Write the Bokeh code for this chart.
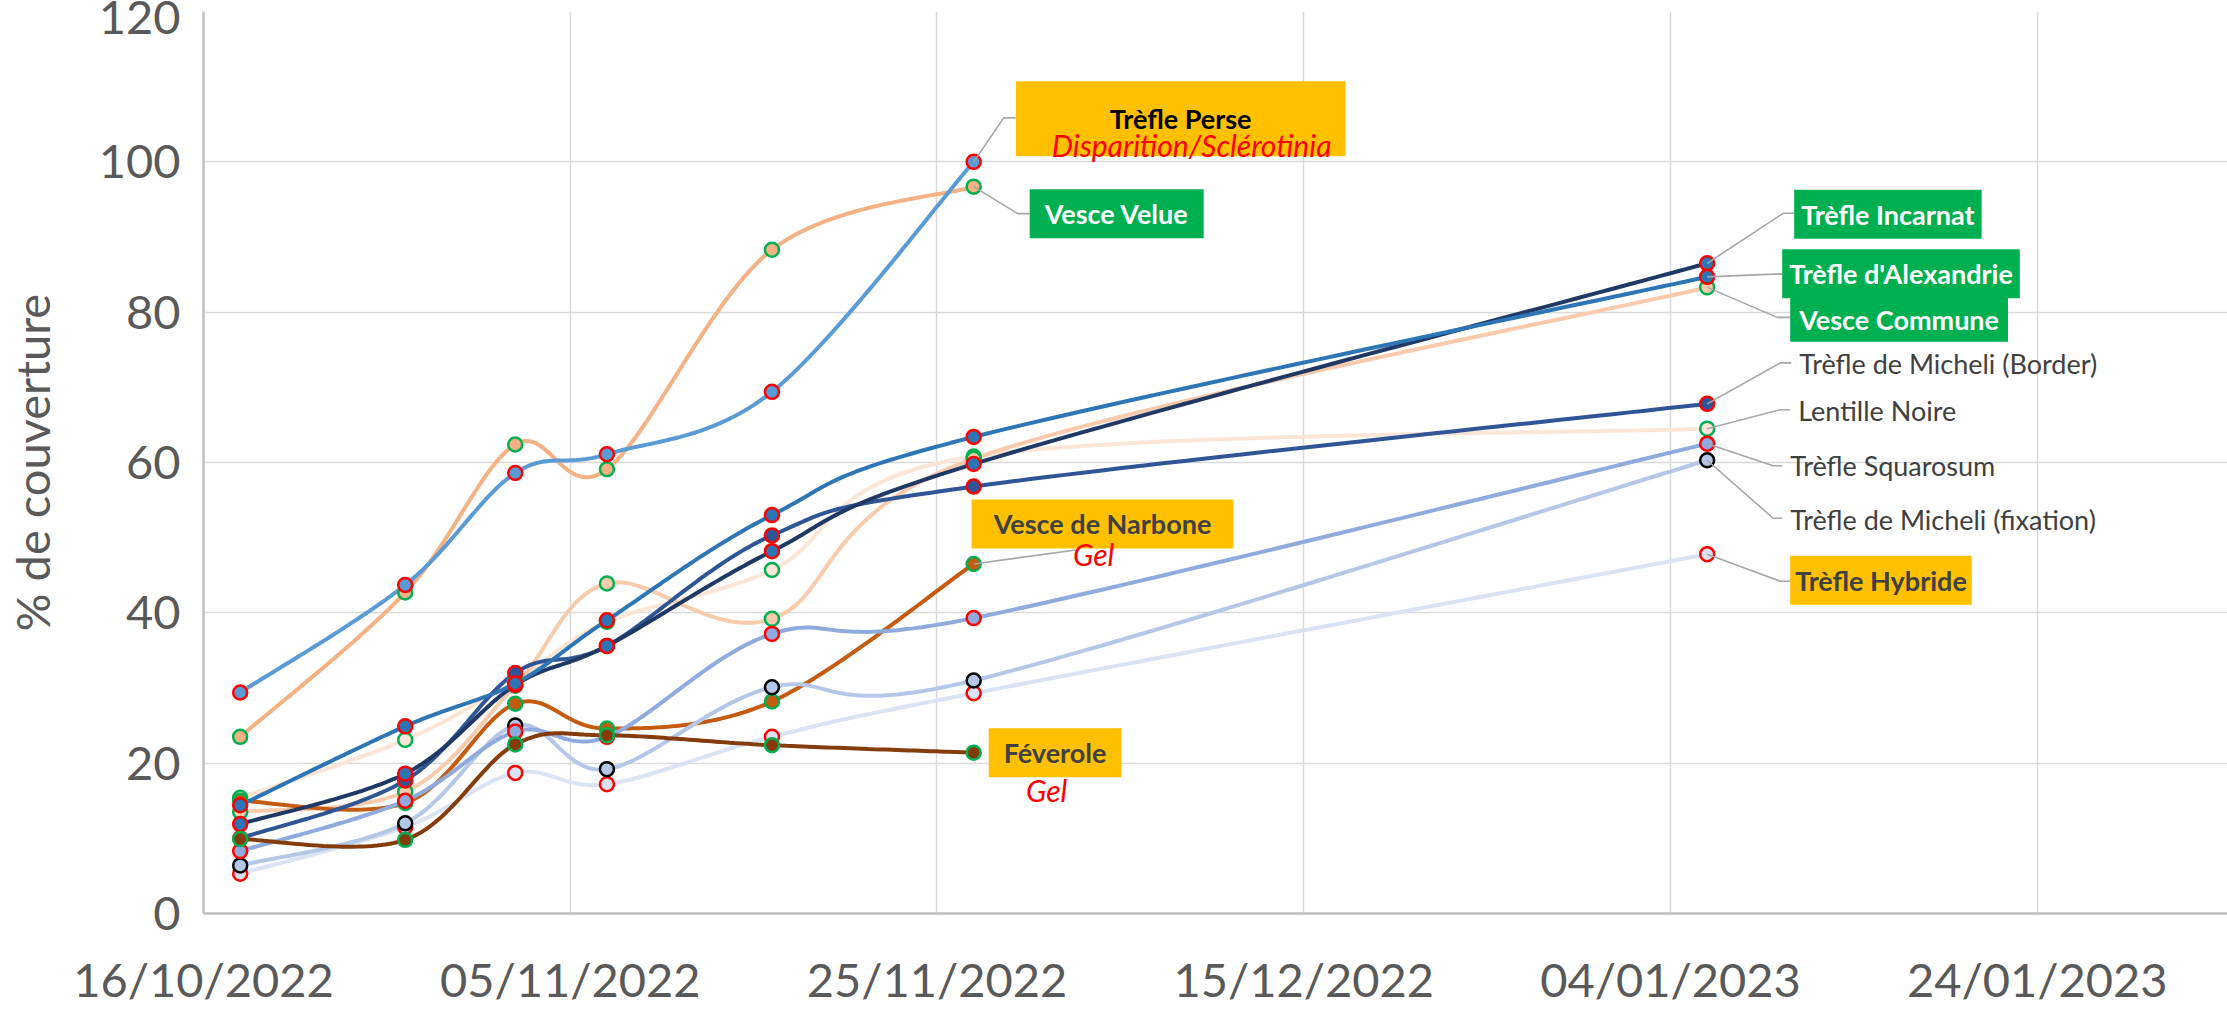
import numpy as np
from bokeh.plotting import figure
from bokeh.models import Range1d, FixedTicker, DatetimeTickFormatter, Label
from bokeh.embed import file_html
from bokeh.resources import INLINE

# ---------------- data ----------------
dates = ["2022-10-18", "2022-10-27", "2022-11-02", "2022-11-07",
         "2022-11-16", "2022-11-27", "2023-01-06"]
tick_dates = ["2022-10-16", "2022-11-05", "2022-11-25",
              "2022-12-15", "2023-01-04", "2023-01-24"]
y_ticks = [0, 20, 40, 60, 80, 100, 120]
x_start, x_end = "2022-10-16", "2023-02-03T09:00"

trefle_perse = [29.4, 43.7, 58.6, 61.1, 69.4, 100.0]
vesce_velue = [23.5, 42.7, 62.4, 59.1, 88.3, 96.7]
trefle_incarnat = [11.9, 18.6, 30.4, 35.6, 48.2, 59.8, 86.5]
trefle_alexandrie = [14.4, 24.9, 30.6, 39.0, 53.0, 63.4, 84.7]
vesce_commune = [13.5, 16.2, 30.3, 43.9, 39.2, 60.5, 83.3]
micheli_border = [10.0, 17.7, 32.0, 35.6, 50.3, 56.8, 67.8]
lentille_noire = [15.4, 23.1, 31.0, 38.8, 45.7, 60.8, 64.5]
trefle_squarosum = [8.3, 15.0, 24.2, 23.5, 37.2, 39.3, 62.5]
micheli_fixation = [6.4, 12.0, 25.0, 19.2, 30.1, 31.0, 60.3]
trefle_hybride = [5.3, 11.5, 18.7, 17.2, 23.5, 29.3, 47.8]
vesce_narbone = [15.0, 14.7, 27.9, 24.6, 28.2, 46.5]
feverole = [9.9, 9.8, 22.5, 23.7, 22.4, 21.4]

# ---------------- layout ----------------
W, H = 2227, 1009
ML, MR, MT, MB = 203, 0, 11, 96
FW, FH = W - ML - MR, H - MT - MB
FONT = "Lato"
RED, GREEN, BLACK = "#FF0000", "#00B050", "#000000"


def ms(d):
    return float((np.datetime64(d) - np.datetime64("1970-01-01T00:00")) / np.timedelta64(1, "ms"))


X0, X1 = ms(x_start), ms(x_end)
PX_X = FW / (X1 - X0)      # px per ms
PX_Y = FH / 120.0          # px per unit
xd = [ms(d) for d in dates]


def smooth(xs, ys, n=40):
    P = np.array([[x * PX_X, y * PX_Y] for x, y in zip(xs, ys)])
    out = []
    for i in range(len(P) - 1):
        p0 = P[i - 1] if i > 0 else P[i]
        p1, p2 = P[i], P[i + 1]
        p3 = P[i + 2] if i + 2 < len(P) else P[i + 1]
        c1 = p1 + (p2 - p0) / 6.0
        c2 = p2 - (p3 - p1) / 6.0
        t = np.linspace(0, 1, n)[:, None]
        seg = ((1 - t) ** 3) * p1 + 3 * ((1 - t) ** 2) * t * c1 + 3 * (1 - t) * t * t * c2 + (t ** 3) * p2
        out.append(seg if i == 0 else seg[1:])
    S = np.vstack(out)
    return S[:, 0] / PX_X, S[:, 1] / PX_Y


series = [
    # name, values, line, fill, outline
    ("Lentille Noire", lentille_noire, "#FBE5D6", "#FBE5D6", GREEN),
    ("Vesce Commune", vesce_commune, "#F8CBAD", "#F8CBAD", GREEN),
    ("Vesce Velue", vesce_velue, "#F4B183", "#F4B183", GREEN),
    ("Trèfle Perse", trefle_perse, "#5B9BD5", "#5B9BD5", RED),
    ("Vesce de Narbone", vesce_narbone, "#C55A11", "#C55A11", GREEN),
    ("Trèfle Hybride", trefle_hybride, "#DAE3F3", "#DAE3F3", RED),
    ("Trèfle de Micheli (fixation)", micheli_fixation, "#B4C7E7", "#B4C7E7", BLACK),
    ("Trèfle Squarosum", trefle_squarosum, "#8FAADC", "#8FAADC", RED),
    ("Trèfle de Micheli (Border)", micheli_border, "#2F5597", "#2F5597", RED),
    ("Trèfle Incarnat", trefle_incarnat, "#1F3864", "#2E75B6", RED),
    ("Trèfle d'Alexandrie", trefle_alexandrie, "#2E75B6", "#2E75B6", RED),
    ("Féverole", feverole, "#843C0C", "#843C0C", GREEN),
]

p = figure(width=W, height=H, x_axis_type="datetime", output_backend="svg",
           toolbar_location=None, x_range=Range1d(X0, X1), y_range=Range1d(0, 120),
           min_border_left=ML, min_border_right=MR, min_border_top=MT,
           min_border_bottom=MB)
p.outline_line_color = None
p.background_fill_color = "white"
p.border_fill_color = "white"

fmt = "%d/%m/%Y"
p.xaxis.ticker = FixedTicker(ticks=[ms(d) for d in tick_dates])
p.xaxis.formatter = DatetimeTickFormatter(days=fmt, months=fmt, years=fmt, hours=fmt,
                                          hourmin=fmt, minutes=fmt, minsec=fmt,
                                          seconds=fmt, milliseconds=fmt, microseconds=fmt)
p.yaxis.ticker = FixedTicker(ticks=y_ticks)
for ax in (p.xaxis, p.yaxis):
    ax.major_label_text_font = FONT
    ax.major_label_text_font_size = "47px"
    ax.major_label_text_color = "#595959"
    ax.major_tick_line_color = None
    ax.minor_tick_line_color = None
    ax.axis_line_color = "#BFBFBF"
    ax.axis_line_width = 2.5
p.xaxis.major_label_standoff = 31
p.yaxis.major_label_standoff = 17
p.yaxis.axis_label = "% de couverture"
p.yaxis.axis_label_text_font = FONT
p.yaxis.axis_label_text_font_size = "47px"
p.yaxis.axis_label_text_font_style = "normal"
p.yaxis.axis_label_text_color = "#595959"
p.yaxis.axis_label_standoff = 36
for g in (p.xgrid, p.ygrid):
    g.grid_line_color = "#D9D9D9"
    g.grid_line_width = 1.5

# lines
for name, vals, lc, fc, oc in series:
    sx, sy = smooth(xd[:len(vals)], vals)
    p.line(sx, sy, line_color=lc, line_width=4)

# markers
for name, vals, lc, fc, oc in series:
    p.scatter(xd[:len(vals)], vals, marker="circle", size=14, fill_color=fc,
              line_color=oc, line_width=2.5)


# leader lines (pixel offsets from the last point)
def leader(vals, pts):
    i = len(vals) - 1
    x0, y0 = xd[i], vals[i]
    xs = [x0 + dx / PX_X for dx, dy in pts]
    ys = [y0 - dy / PX_Y for dx, dy in pts]
    p.line(xs, ys, line_color="#A6A6A6", line_width=1.6)


leader(trefle_perse, [(0, 0), (30, -44), (42, -44)])
leader(vesce_velue, [(0, 0), (44, 27), (56, 27)])
leader(vesce_narbone, [(0, 0), (102, -14)])
leader(trefle_incarnat, [(0, 0), (76, -50), (87, -50)])
leader(trefle_alexandrie, [(0, 0), (75, -3)])
leader(vesce_commune, [(0, 0), (70, 30), (83, 30)])
leader(micheli_border, [(0, 0), (73, -41), (84, -41)])
leader(lentille_noire, [(0, 0), (73, -19), (83, -19)])
leader(trefle_squarosum, [(0, 0), (66, 22), (75, 22)])
leader(micheli_fixation, [(0, 0), (66, 58), (75, 58)])
leader(trefle_hybride, [(0, 0), (73, 27), (83, 27)])


def label(vals, text, dx, dy, color="#404040", fill=None, style="bold",
          align="left", baseline="middle", pad=(8, 8), size="27px"):
    i = len(vals) - 1
    kw = dict(x=xd[i], y=vals[i], x_offset=dx, y_offset=dy, text=text,
              text_font=FONT, text_font_size=size, text_font_style=style,
              text_color=color, text_align=align, text_baseline=baseline)
    if fill is not None:
        kw.update(background_fill_color=fill, padding=pad)
    p.add_layout(Label(**kw))


YEL = "#FFC000"
label(trefle_perse, "Trèfle Perse", 207, 43, color=BLACK, fill=YEL, align="center", pad=(94, 21))
label(trefle_perse, "Disparition/Sclérotinia", 218, 17, color=RED, style="italic",
      align="center", size="30px")
label(vesce_velue, "Vesce Velue", 56, -27, color="white", fill=GREEN, pad=(15, 8))
label(vesce_narbone, "Vesce de Narbone", -2, 40, fill=YEL, pad=(22, 8))
label(vesce_narbone, "Gel", 120, 10, color=RED, style="italic", align="center", size="30px")
label(feverole, "Féverole", 15, 0, fill=YEL, pad=(15, 8))
label(feverole, "Gel", 73, -37, color=RED, style="italic", align="center", size="30px")
label(trefle_incarnat, "Trèfle Incarnat", 87, 49, color="white", fill=GREEN, pad=(7, 8))
label(trefle_alexandrie, "Trèfle d'Alexandrie", 75, 3, color="white", fill=GREEN, pad=(7, 8))
label(vesce_commune, "Vesce Commune", 83, -32, color="white", fill=GREEN, pad=(9, 6))
label(micheli_border, "Trèfle de Micheli (Border)", 92, 40, style="normal")
label(lentille_noire, "Lentille Noire", 91, 18, style="normal")
label(trefle_squarosum, "Trèfle Squarosum", 83, -22, style="normal")
label(micheli_fixation, "Trèfle de Micheli (fixation)", 83, -59, style="normal")
label(trefle_hybride, "Trèfle Hybride", 83, -26, fill=YEL, pad=(5, 8))

open("out.html", "w").write(file_html(p, INLINE))
